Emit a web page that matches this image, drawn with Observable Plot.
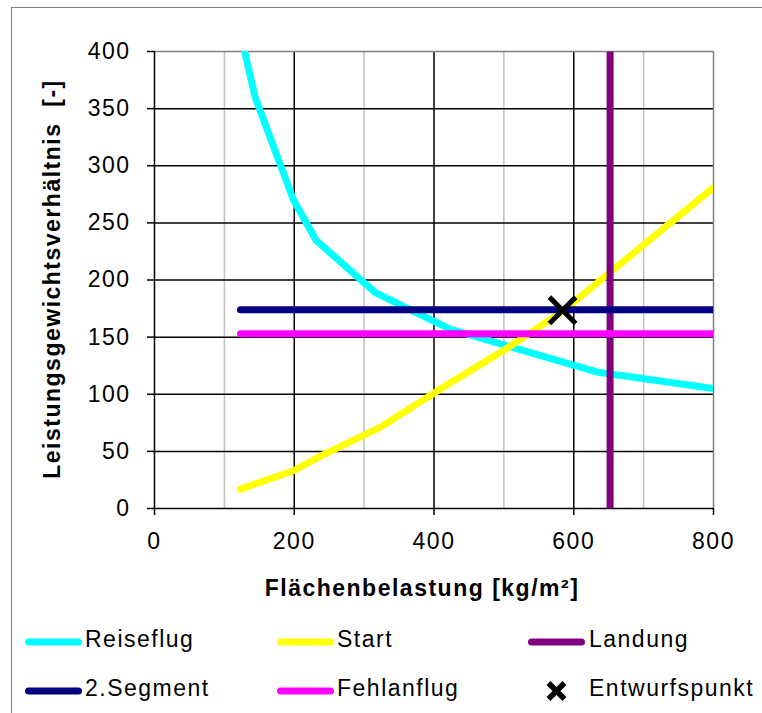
<!DOCTYPE html>
<html><head><meta charset="utf-8">
<script src="https://cdn.jsdelivr.net/npm/d3@7"></script>
<script src="https://cdn.jsdelivr.net/npm/@observablehq/plot@0.6"></script>
<style>
body{margin:0;background:#fff;}
#wrap{position:relative;width:762px;height:713px;overflow:hidden;font-family:"Liberation Sans",Arial,sans-serif;}
#border{position:absolute;left:11px;top:7px;width:800px;height:800px;border-left:1px solid #808080;border-top:1px solid #808080;}
#chart{position:absolute;left:0;top:0;}
.leg{position:absolute;font-size:23px;letter-spacing:1.5px;color:#000;line-height:1;white-space:nowrap;}
.sw{position:absolute;}
</style></head><body>
<div id="wrap"><div id="border"></div><div id="chart"></div><div id="legend"></div></div>
<script>
// ---- data ----
const reiseX = [129, 144, 199, 231, 316, 423, 633, 800];
const reiseY = [400, 360, 270, 235, 189, 157, 119.5, 105];
const startX = [123, 199, 241, 323, 418, 499, 585, 800];
const startY = [17, 33, 47, 71, 108, 138, 173, 281];
const landX = [652, 652];
const landY = [0, 400];
const seg2X = [123, 800];
const seg2Y = [174, 174];
const fehlX = [123, 800];
const fehlY = [153, 153];
const entwurfX = [584];
const entwurfY = [173.5];

const xTicks = [0, 200, 400, 600, 800];
const yTicks = [0, 50, 100, 150, 200, 250, 300, 350, 400];
const xMinorGrid = [100, 300, 500, 700];
const xMajorGrid = [200, 400, 600];
const yGrid = [50, 100, 150, 200, 250, 300, 350];

const seriesNames = ["Reiseflug", "Start", "Landung", "2.Segment", "Fehlanflug", "Entwurfspunkt"];
const seriesColors = ["#00FFFF", "#FFFF00", "#800080", "#000080", "#FF00FF", "#000000"];

const xLabel = "Flächenbelastung [kg/m²]";
const yLabel = "Leistungsgewichtsverhältnis  [-]";

// ---- build tables ----
const toRows = (xs, ys) => xs.map((x, i) => ({x, y: ys[i]}));
const reise = toRows(reiseX, reiseY);
const start = toRows(startX, startY);
const land = toRows(landX, landY);
const seg2 = toRows(seg2X, seg2Y);
const fehl = toRows(fehlX, fehlY);
const entwurf = toRows(entwurfX, entwurfY);

const lineOpts = (color, extra = {}) => ({x: "x", y: "y", stroke: color, strokeWidth: 7, strokeLinecap: "round", strokeLinejoin: "round", clip: true, ...extra});

const chart = Plot.plot({
  width: 762,
  height: 610,
  marginLeft: 154,
  marginRight: 49,
  marginTop: 51,
  marginBottom: 102,
  style: {background: "transparent", fontFamily: "'Liberation Sans', Arial, sans-serif", fontSize: "23px", letterSpacing: "1.5px", color: "#000", overflow: "visible"},
  x: {domain: [0, 800]},
  y: {domain: [0, 400]},
  marks: [
    Plot.ruleX(xMinorGrid, {stroke: "#c0c0c0", strokeWidth: 1.5}),
    Plot.ruleX(xMajorGrid, {stroke: "#000", strokeWidth: 1.5}),
    Plot.ruleY(yGrid, {stroke: "#000", strokeWidth: 1.5}),
    Plot.ruleY([400], {stroke: "#808080", strokeWidth: 1.5}),
    Plot.ruleX([800], {stroke: "#808080", strokeWidth: 1.5}),
    Plot.ruleX([0], {stroke: "#000", strokeWidth: 1.5}),
    Plot.ruleY([0], {stroke: "#000", strokeWidth: 1.5}),
    Plot.axisY(yTicks, {tickSize: 7, tickPadding: 17, label: null, strokeWidth: 1.5}),
    Plot.axisX(xTicks, {tickSize: 7, tickPadding: 17, label: null, strokeWidth: 1.5}),
    Plot.line(reise, lineOpts(seriesColors[0])),
    Plot.line(start, lineOpts(seriesColors[1])),
    Plot.line(land, lineOpts(seriesColors[2], {strokeLinecap: "butt", clip: false})),
    Plot.line(seg2, lineOpts(seriesColors[3])),
    Plot.line(fehl, lineOpts(seriesColors[4])),
    Plot.dot(entwurf, {x: "x", y: "y", symbol: "times", r: 12, stroke: "#000", strokeWidth: 5}),
    Plot.text([xLabel], {frameAnchor: "bottom", dy: 87, dx: -12, fontWeight: "bold", fontSize: 23}),
    Plot.text([yLabel], {frameAnchor: "left", textAnchor: "middle", rotate: -90, dx: -102, dy: -1, fontWeight: "bold", fontSize: 23})
  ]
});
document.getElementById("chart").appendChild(chart);

// ---- legend ----
const legend = document.getElementById("legend");
const colText = [85, 337, 589];
const colSw = [25, 277, 528];
const rowY = [642, 691];
seriesNames.forEach((name, i) => {
  const col = i % 3, row = Math.floor(i / 3);
  const cy = rowY[row];
  const sw = document.createElementNS("http://www.w3.org/2000/svg", "svg");
  sw.setAttribute("class", "sw");
  sw.setAttribute("width", 60);
  sw.setAttribute("height", 24);
  sw.style.left = colSw[col] + "px";
  sw.style.top = (cy - 12) + "px";
  if (name === "Entwurfspunkt") {
    const p = document.createElementNS("http://www.w3.org/2000/svg", "path");
    const cx = 556.5 - colSw[col];
    p.setAttribute("d", `M${cx-8},${12-8}L${cx+8},${12+8}M${cx-8},${12+8}L${cx+8},${12-8}`);
    p.setAttribute("stroke", seriesColors[i]);
    p.setAttribute("stroke-width", 5.5);
    sw.appendChild(p);
  } else {
    const l = document.createElementNS("http://www.w3.org/2000/svg", "line");
    l.setAttribute("x1", 3.5); l.setAttribute("x2", 53.5);
    l.setAttribute("y1", 12); l.setAttribute("y2", 12);
    l.setAttribute("stroke", seriesColors[i]);
    l.setAttribute("stroke-width", 7);
    l.setAttribute("stroke-linecap", "round");
    sw.appendChild(l);
  }
  legend.appendChild(sw);
  const t = document.createElement("div");
  t.className = "leg";
  t.textContent = name;
  t.style.left = colText[col] + "px";
  t.style.top = (cy - 14) + "px";
  legend.appendChild(t);
});
</script>
</body></html>
